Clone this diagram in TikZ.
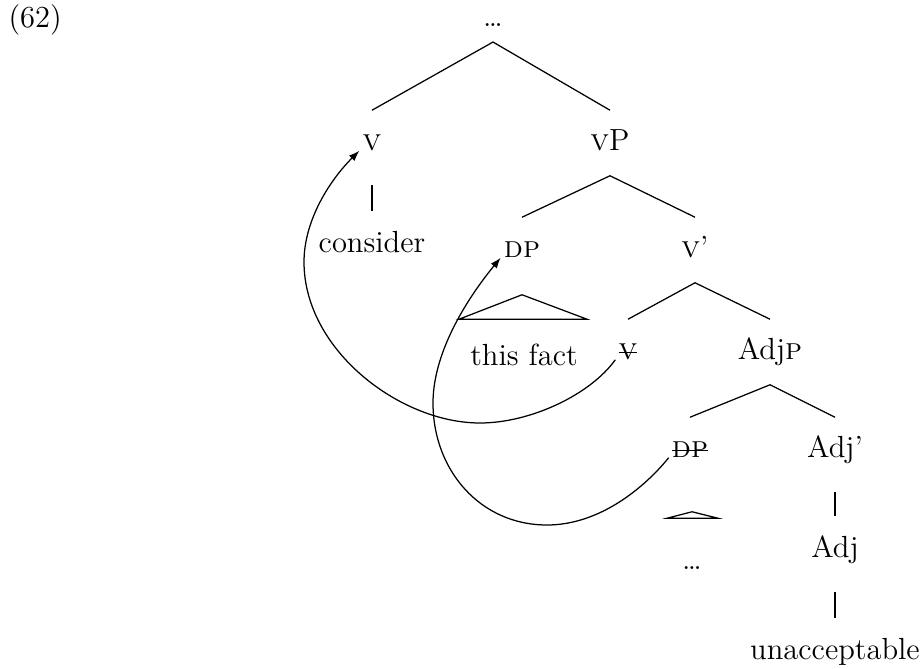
\documentclass[tikz,border=0pt]{standalone}
\usetikzlibrary{arrows.meta}
\usetikzlibrary{calc}
\tikzset{>=latex}
\newcommand{\struck}[1]{\setbox0\hbox{#1}\rlap{\rule[0.5ex]{\wd0}{0.45pt}}\box0}

\begin{document}
\begin{tikzpicture}[
            x=0.36pt, y=-0.36pt,
            font=\fontsize{11}{13}\selectfont,
            cat/.style={
                inner xsep=1pt, inner ysep=7.5pt,
                text height=1.6ex, text depth=0.3ex,
            },
            branch/.style={line width=0.45pt},
            unary/.style={line width=0.45pt, shorten <=3.5pt, shorten >=0.5pt},
            roof/.style={line width=0.45pt},
            move/.style={-{Latex[length=3.8pt, width=2.8pt]}, line width=0.45pt},
        ]
            \useasboundingbox (0,0) rectangle (922,669);

            % --- example number ---
            \node[anchor=west, inner sep=0] (num) at (8,20) {(62)};

            % --- tree ---
            \node[cat, inner ysep=4pt] (top) at (493,19) {\ldots};
            \node[cat] (v) at (372,143) {\textsc{v}};
            \node[cat] (vp) at (610,143) {\textsc{v}P};
            \node[cat] (cons) at (372,245) {consider};
            \node[cat] (dp) at (522,250) {\textsc{dp}};
            \node[cat] (vbar) at (695,250) {\textsc{v}'};
            \node[cat] (fact) at (524,358) {this fact};
            \node[cat] (tv) at (628,352) {\struck{\textsc{v}}};
            \node[cat] (adjp) at (770,352) {Adj\textsc{p}};
            \node[cat] (tdp) at (690,450) {\struck{\textsc{dp}}};
            \node[cat] (adjbar) at (835,450) {Adj'};
            \node[cat] (dots) at (692,562) {\ldots};
            \node[cat] (adj) at (835,550) {Adj};
            \node[cat] (unacc) at (835,652) {unacceptable};

            % --- branches ---
            \draw[branch] (v.north) -- (top.south) -- (vp.north);
            \draw[unary] (v.south) -- (cons.north);
            \draw[branch] (dp.north) -- (vp.south) -- (vbar.north);
            \draw[branch] (tv.north) -- (vbar.south) -- (adjp.north);
            \draw[branch] (tdp.north) -- (adjp.south) -- (adjbar.north);
            \draw[unary] (adjbar.south) -- (adj.north);
            \draw[unary] (adj.south) -- (unacc.north);

            % --- roofs ---
            \draw[roof] ($(dp.south)+(0,12)$) -- ($(fact.north west)+(-8,-6)$)
                -- ($(fact.north east)+(6,-6)$) -- cycle;
            \draw[roof] ($(tdp.south)+(2,29)$) -- ($(dots.north)+(-25,-11)$)
                -- ($(dots.north)+(26,-11)$) -- cycle;

            % --- movement ---
            \draw[move] (tv.base west) .. controls (590,395) and (530,423) .. (480,423)
                .. controls (400,423) and (304,350) .. (304,262)
                .. controls (304,220) and (330,180) .. (v.base west);
            \draw[move] (tdp.base west) .. controls (645,487) and (600,525) .. (547,525)
                .. controls (480,525) and (433,470) .. (433,403)
                .. controls (433,350) and (470,295) .. (dp.base west);
        \end{tikzpicture}
\end{document}
